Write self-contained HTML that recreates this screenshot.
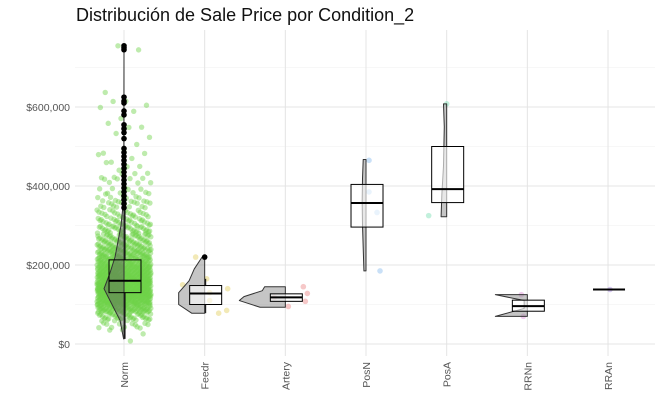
<!DOCTYPE html>
<html><head><meta charset="utf-8"><style>
body{margin:0;background:#fff;}
svg{display:block;font-family:"Liberation Sans",sans-serif;}
</style></head><body>
<svg id="chart" width="661" height="408">
<text x="76" y="21" font-size="18" fill="#111">Distribución de Sale Price por Condition_2</text>
<g id="grid"></g><g id="layers"></g><g id="axes"></g>
</svg>
<script>
const categories=["Norm","Feedr","Artery","PosN","PosA","RRNn","RRAn"];
const yTicks=[0,200000,400000,600000];
const yTickLabels=["$0","$200,000","$400,000","$600,000"];
const q1=[130000,100000,108000,296000,358000,83000,138000];
const med=[160000,128000,118000,357000,392000,96000,138000];
const q3=[213000,148000,127000,404000,500000,111000,138000];
const whiskLo=[13000,78000,108000,296000,358000,83000,138000];
const whiskHi=[340000,165000,127000,404000,500000,111000,138000];
const normOutliers=[345000,355000,365000,375000,385000,395000,405000,415000,425000,435000,445000,455000,465000,475000,485000,495000,520000,535000,545000,555000,580000,590000,610000,615000,625000,745000,750000,755000];
const feedrOutliers=[220000];
const violinVals=[
[13000,60000,100000,140000,180000,220000,260000,300000,340000,400000,500000,755000],
[78000,100000,130000,160000,190000,220000],
[93000,110000,120000,135000,145000],
[185000,300000,360000,420000,467000],
[322000,380000,450000,550000,608000],
[70000,90000,110000,125000],
[]];
const violinDens=[
[0.02,0.2,0.6,1,0.7,0.45,0.3,0.15,0.07,0.03,0.01,0.0],
[0.5,1,1,0.6,0.4,0.1],
[0.55,1,0.9,0.5,0.45],
[0.3,0.5,0.55,0.5,0.4],
[0.7,0.6,0.4,0.3,0.4],
[1,0.1,0.1,1],
[]];
const violinMaxW=[20,26,46,7,8,32,0];
const normBinCounts=[1,3,15,40,90,130,180,170,140,120,90,70,55,45,35,28,22,15,12,10,7,5,4,3,3,1,2,3,1,2,3,1,0,0,0,0,0,2];
const smallPts=[[1,220000,-9],[1,165000,2],[1,150000,-22],[1,140000,23],[1,130000,5],[1,110000,5],[1,85000,22],[1,78000,14],
[2,145000,18],[2,128000,22],[2,118000,-11],[2,108000,20],[2,95000,3],
[3,465000,3],[3,385000,3],[3,333000,11],[3,185000,14],
[4,608000,0],[4,325000,-18],[5,125000,-6],[5,70000,-4],[6,138000,2]];
const ptColors=["#6fd24a","#e8d77a","#ee9a9a","#9cc6f0","#8fe3c0","#e4a0e0","#b79ce8"];

const NS="http://www.w3.org/2000/svg";
const L=75,R=655,T=30,B=356;
const yS=v=>344-v*79/200000;
const xS=i=>124+i*80.67;
function mk(tag,attrs,parent){const e=document.createElementNS(NS,tag);for(const k in attrs)e.setAttribute(k,attrs[k]);parent.appendChild(e);return e;}
const grid=document.getElementById('grid'),layers=document.getElementById('layers'),axes=document.getElementById('axes');
for(let v=100000;v<=700000;v+=200000){const g=mk('line',{x1:L,x2:R,y1:yS(v),y2:yS(v),stroke:'#f0f0f0','stroke-width':0.6},grid);

}
yTicks.forEach((v,i)=>{const g=mk('line',{x1:L,x2:R,y1:yS(v),y2:yS(v),stroke:'#e4e4e4','stroke-width':1},grid);


const t=mk('text',{x:70,y:yS(v)+4,'text-anchor':'end','font-size':10.5,fill:'#555'},axes);t.textContent=yTickLabels[i];

});
categories.forEach((c,i)=>{const g=mk('line',{x1:xS(i),x2:xS(i),y1:T,y2:B,stroke:'#e4e4e4','stroke-width':1},grid);


const t=mk('text',{x:0,y:0,'text-anchor':'end','font-size':10.5,fill:'#555',transform:`translate(${xS(i)+4},362) rotate(-90)`},axes);t.textContent=c;

});
let k=0;
normBinCounts.forEach((n,b)=>{for(let j=0;j<n;j++){k++;
const fx=((k*0.61803398)%1);const fy=((k*0.3819660+j*0.137)%1);
const v=b*20000+fy*20000;
const p=mk('circle',{cx:xS(0)+(fx-0.5)*54,cy:yS(v),r:2.7,fill:ptColors[0],'fill-opacity':0.45},layers);

}});
smallPts.forEach(d=>{const p=mk('circle',{cx:xS(d[0])+d[2],cy:yS(d[1]),r:2.8,fill:ptColors[d[0]],'fill-opacity':0.55},layers);

});
violinVals.forEach((vals,i)=>{if(!vals.length)return;const cx=xS(i);
let d=`M${cx},${yS(vals[0])}`;vals.forEach((v,j)=>{d+=` L${cx-violinDens[i][j]*violinMaxW[i]},${yS(v)}`;});
d+=` L${cx},${yS(vals[vals.length-1])} Z`;
const p=mk('path',{d:d,fill:i==0?'rgba(90,90,90,0.45)':'rgba(140,140,140,0.5)',stroke:'#333','stroke-width':1,'stroke-linejoin':'round'},layers);

});
categories.forEach((c,i)=>{const cx=xS(i)+1,w=32;
const wl=mk('line',{x1:cx,x2:cx,y1:yS(whiskLo[i]),y2:yS(q1[i]),stroke:'#000','stroke-width':1},layers);


const wh=mk('line',{x1:cx,x2:cx,y1:yS(whiskHi[i]),y2:yS(q3[i]),stroke:'#000','stroke-width':1},layers);


const r=mk('rect',{x:cx-w/2,y:yS(q3[i]),width:w,height:Math.max(0,yS(q1[i])-yS(q3[i])),fill:i==0?'none':'rgba(255,255,255,0.6)',stroke:'#000','stroke-width':1},layers);


const m=mk('line',{x1:cx-w/2,x2:cx+w/2,y1:yS(med[i]),y2:yS(med[i]),stroke:'#000','stroke-width':2},layers);

});
normOutliers.forEach(v=>{const p=mk('circle',{cx:xS(0),cy:yS(v),r:2.8,fill:'#000'},layers);

});
feedrOutliers.forEach(v=>{const p=mk('circle',{cx:xS(1),cy:yS(v),r:2.8,fill:'#000'},layers);

});
</script>
</body></html>
